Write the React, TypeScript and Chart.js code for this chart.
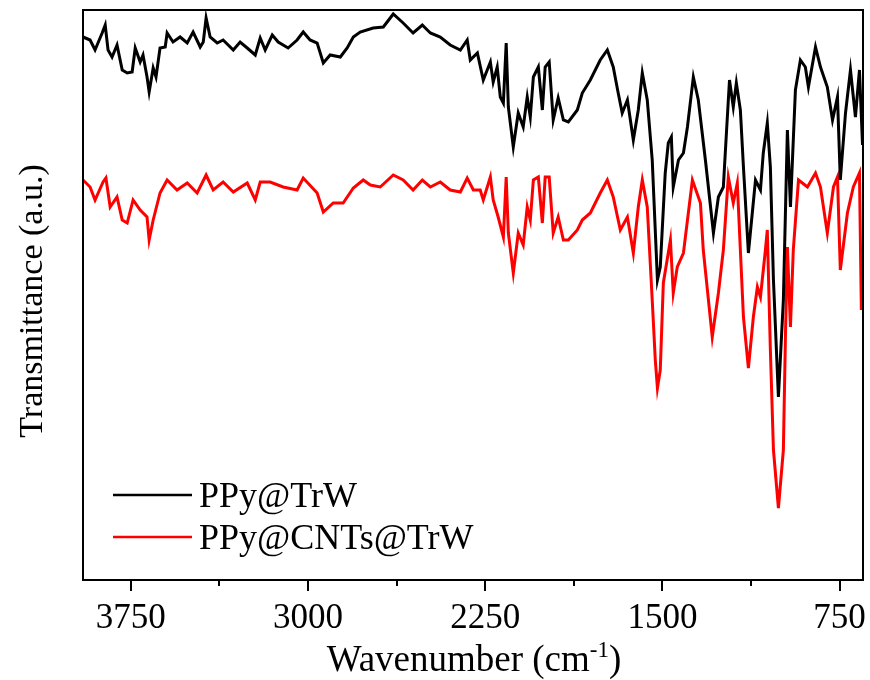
import React, { useEffect, useRef } from "react";
import { Chart, registerables } from "chart.js";

Chart.register(...registerables);

// Wavenumber (cm-1) and transmittance (a.u.) for PPy@TrW
const blackWave = [3952,3922,3901,3871,3858,3846,3829,3808,3786,3765,3744,3731,3710,3698,3681,3672,3655,3643,3626,3604,3596,3571,3541,3511,3486,3456,3443,3431,3414,3384,3359,3316,3287,3257,3223,3202,3181,3151,3126,3084,3046,3020,2991,2961,2935,2906,2863,2834,2808,2779,2724,2681,2639,2597,2555,2516,2482,2440,2398,2355,2326,2313,2283,2258,2228,2216,2199,2186,2173,2161,2152,2131,2110,2089,2072,2059,2046,2025,2008,1996,1979,1962,1941,1919,1898,1860,1839,1805,1763,1733,1708,1687,1670,1648,1623,1602,1585,1564,1543,1521,1509,1488,1475,1462,1454,1432,1411,1394,1369,1348,1318,1284,1263,1242,1229,1216,1200,1187,1170,1157,1136,1106,1085,1073,1056,1043,1030,1009,988,971,958,937,916,895,882,852,831,802,780,759,747,725,704,683,666,653];
const blackT = [108.6,108,106,109.4,111,106,104.6,107,102,101.4,101.6,106.4,103.6,105,100.6,97.6,102.4,100.6,106.4,106.6,109.4,107.6,108.6,107.4,109.6,106.6,107.6,112.4,108.6,107.4,108,106,107.6,106.4,105,108.4,106,109,107.6,106.4,108,109.6,108,107.4,103.4,105,104.6,106.4,108.6,109.6,110.4,110.6,113.2,111.4,109.4,111,109.4,108.6,107,106,108,104,105.4,100,103.6,99.6,102.6,96.6,95.4,107.4,94.6,86.6,93.4,90.6,96.6,92.6,100.6,102.6,94,102.6,103.6,92,96.4,92,91.6,94,97.4,100,104,106,102.6,97.4,93.4,96,88,94,101.4,96,84,60,62.6,81.4,87.4,88.6,78.6,84,85.4,90.6,100.6,96,84,69.4,76.6,78.6,89.4,100,94.6,99.4,94,82.6,65.4,80,78,85.4,91.4,82.6,60,36.6,56,90,74.6,98,104,102.6,98.6,106.6,102.6,98.6,92,96.6,80,93.4,102,92.6,102,87];

// Wavenumber (cm-1) and transmittance (a.u.) for PPy@CNTs@TrW
const redWave = [3952,3922,3901,3867,3855,3837,3808,3786,3765,3740,3710,3681,3672,3655,3626,3596,3554,3511,3469,3431,3401,3359,3316,3257,3223,3202,3160,3105,3046,3020,2961,2935,2893,2851,2808,2766,2736,2694,2639,2597,2555,2516,2482,2440,2398,2355,2326,2300,2271,2258,2228,2216,2195,2173,2161,2152,2131,2110,2089,2072,2059,2046,2025,2008,1996,1979,1962,1941,1919,1898,1860,1839,1805,1763,1733,1708,1678,1648,1623,1602,1585,1564,1543,1530,1521,1509,1496,1466,1454,1437,1411,1373,1339,1327,1289,1263,1242,1221,1200,1183,1157,1136,1115,1098,1085,1064,1056,1043,1030,1009,988,979,971,958,946,924,886,852,831,802,776,759,747,717,692,666,658];
const redT = [80,78.6,76,79.6,80.4,74.6,76.6,72,71.4,76,74,72.6,68,72,77.4,80,78,79.4,77.4,81,78,79.6,77.6,79.4,76,79.6,79.6,78.6,78,80.4,77.4,73.6,75.4,75.4,78.4,80,79,78.6,81,80,78,80,78.6,79.6,78,77.6,80.4,78,78,76,80.6,76,72.6,68.6,80.6,69.4,61.4,69.4,67,74.6,72,80,80.6,71.4,80.6,80.6,69.4,72.6,68,68,70,72,73.4,77.4,80,76.6,70,72.6,65.4,74.6,80,74.6,56,44,38.4,42,59.4,68,57.4,62.6,65.4,80,75.4,66,48.6,57.4,66,80.6,75.4,79.4,52.6,42.4,52.6,58.6,56.6,66,70,46,26,14.4,26,49.4,66.6,50.6,66,80,78.6,81.4,78.6,69.4,78.6,80.6,62,73.4,78.6,81.4,54];

const seriesNames = ["PPy@TrW", "PPy@CNTs@TrW"];
const seriesColors = ["#000000", "#ff0000"];
const majorTicks = [3750, 3000, 2250, 1500, 750];
const minorTicks = [3375, 2625, 1875, 1125];
const xTitle = "Wavenumber (cm";
const xTitleSup = "-1";
const yTitle = "Transmittance (a.u.)";

const FONT = "'Liberation Serif', 'Times New Roman', serif";

const decorPlugin = {
  id: "decor",
  afterDraw(chart: any) {
    const { ctx, chartArea } = chart;
    const xs = chart.scales.x;
    const { left, right, top, bottom } = chartArea;
    ctx.save();
    ctx.strokeStyle = "#000";
    ctx.fillStyle = "#000";
    ctx.lineWidth = 2;
    ctx.strokeRect(left, top, right - left, bottom - top);
    // ticks
    ctx.beginPath();
    majorTicks.forEach((v) => {
      const x = Math.round(xs.getPixelForValue(v));
      ctx.moveTo(x, bottom);
      ctx.lineTo(x, bottom + 11);
    });
    minorTicks.forEach((v) => {
      const x = Math.round(xs.getPixelForValue(v));
      ctx.moveTo(x, bottom);
      ctx.lineTo(x, bottom + 6);
    });
    ctx.stroke();
    // tick labels
    ctx.font = `35px ${FONT}`;
    ctx.textAlign = "center";
    ctx.textBaseline = "alphabetic";
    majorTicks.forEach((v) => {
      ctx.fillText(String(v), xs.getPixelForValue(v), 628);
    });
    // x title with superscript
    const big = `37px ${FONT}`;
    const small = `23px ${FONT}`;
    ctx.font = big;
    const w1 = ctx.measureText(xTitle).width;
    const w3 = ctx.measureText(")").width;
    ctx.font = small;
    const w2 = ctx.measureText(xTitleSup).width;
    const total = w1 + w2 + w3;
    const cx = 474;
    const x0 = cx - total / 2;
    ctx.textAlign = "left";
    ctx.font = big;
    ctx.fillText(xTitle, x0, 671);
    ctx.font = small;
    ctx.fillText(xTitleSup, x0 + w1, 657);
    ctx.font = big;
    ctx.fillText(")", x0 + w1 + w2, 671);
    // y title
    ctx.save();
    ctx.translate(42, 301);
    ctx.rotate(-Math.PI / 2);
    ctx.textAlign = "center";
    ctx.font = `34px ${FONT}`;
    ctx.fillText(yTitle, 0, 0);
    ctx.restore();
    // legend
    ctx.font = `36px ${FONT}`;
    ctx.textAlign = "left";
    const ly = [495, 537];
    seriesNames.forEach((name, i) => {
      ctx.strokeStyle = seriesColors[i];
      ctx.lineWidth = 2.5;
      ctx.beginPath();
      ctx.moveTo(113, ly[i]);
      ctx.lineTo(192, ly[i]);
      ctx.stroke();
      ctx.fillStyle = "#000";
      ctx.fillText(name, 199, ly[i] + 12);
    });
    ctx.restore();
  },
};

export default function App() {
  const ref = useRef<HTMLCanvasElement>(null);
  useEffect(() => {
    if (!ref.current) return;
    const chart = new Chart(ref.current, {
      type: "line",
      data: {
        datasets: [
          {
            label: seriesNames[0],
            data: blackWave.map((w, i) => ({ x: w, y: blackT[i] })),
            borderColor: seriesColors[0],
            borderWidth: 3,
            pointRadius: 0,
            tension: 0,
          },
          {
            label: seriesNames[1],
            data: redWave.map((w, i) => ({ x: w, y: redT[i] })),
            borderColor: seriesColors[1],
            borderWidth: 3,
            pointRadius: 0,
            tension: 0,
          },
        ],
      },
      options: {
        animation: false,
        responsive: true,
        maintainAspectRatio: false,
        layout: { padding: { top: 10, right: 7, left: 0, bottom: 0 } },
        plugins: { legend: { display: false }, tooltip: { enabled: false } },
        scales: {
          x: {
            type: "linear",
            reverse: true,
            min: 651,
            max: 3952,
            grid: { display: false },
            border: { display: false },
            ticks: { display: false },
            afterFit: (s: any) => {
              s.height = 100;
            },
          },
          y: {
            type: "linear",
            min: 0,
            max: 114,
            grid: { display: false },
            border: { display: false },
            ticks: { display: false },
            afterFit: (s: any) => {
              s.width = 83;
            },
          },
        },
      },
      plugins: [decorPlugin],
    });
    return () => chart.destroy();
  }, []);
  return (
    <div style={{ position: "fixed", left: 0, top: 0, width: 870, height: 680, background: "#fff" }}>
      <canvas ref={ref} />
    </div>
  );
}
